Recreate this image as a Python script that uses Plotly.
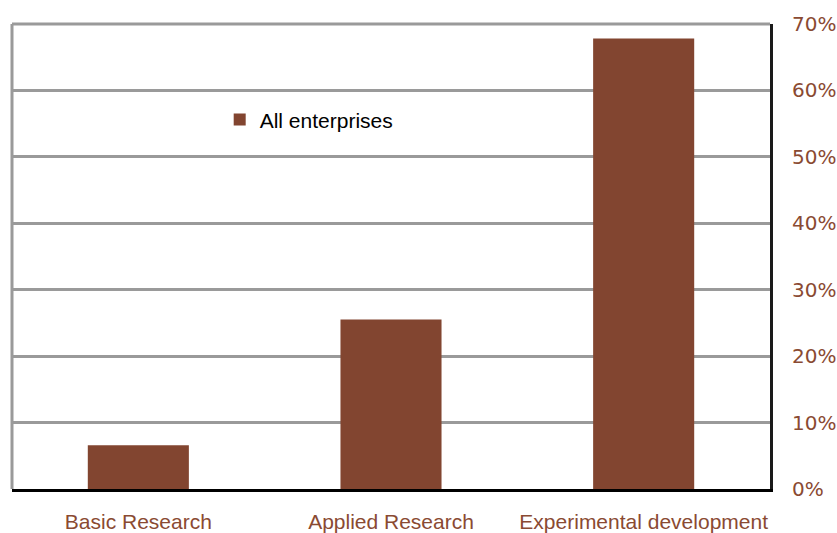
import plotly.graph_objects as go

categories = ["Basic Research", "Applied Research", "Experimental development"]
values = [0.066, 0.255, 0.678]
series_name = "All enterprises"
tick_vals = [0, 0.1, 0.2, 0.3, 0.4, 0.5, 0.6, 0.7]
tick_text = ["0%", "10%", "20%", "30%", "40%", "50%", "60%", "70%"]

bar_color = "#824530"
label_color = "#8a4a32"
grid_color = "#9a9a9a"

fig = go.Figure()
fig.add_trace(go.Bar(x=categories, y=values, name=series_name,
                     marker=dict(color=bar_color, line=dict(width=0)),
                     showlegend=True))

fig.update_layout(
    width=837, height=533,
    margin=dict(l=12, r=67, t=24, b=44),
    paper_bgcolor="white", plot_bgcolor="white",
    bargap=0.6,
    showlegend=True,
    legend=dict(x=0.274, y=0.794, xanchor="left", yanchor="middle",
                bgcolor="rgba(0,0,0,0)",
                font=dict(family="Liberation Sans, Arial, sans-serif", size=21, color="black"),
                itemwidth=30, tracegroupgap=0),
    xaxis=dict(showgrid=False, showline=True, linecolor="black", linewidth=3,
               ticks="", automargin=False,
               tickfont=dict(family="Liberation Sans, Arial, sans-serif", size=21, color=label_color),
               ticklabelstandoff=12, zeroline=False),
    yaxis=dict(side="right", range=[0, 0.7], tickvals=tick_vals, ticktext=tick_text,
               showgrid=True, gridcolor=grid_color, gridwidth=3,
               showline=True, linecolor="#1a1a1a", linewidth=3,
               ticks="", ticklabelstandoff=15, automargin=False,
               tickfont=dict(family="DejaVu Sans, sans-serif", size=20, color=label_color),
               zeroline=False),
)
fig.add_shape(type="line", xref="paper", yref="paper", x0=0, x1=0, y0=0, y1=1,
              line=dict(color=grid_color, width=3), layer="below")
fig.add_shape(type="line", xref="paper", yref="paper", x0=0, x1=1, y0=1, y1=1,
              line=dict(color=grid_color, width=3), layer="below")

fig.write_html("out.html", config={"displayModeBar": False},
               post_script="document.body.style.margin='0';document.body.style.overflow='hidden';")
